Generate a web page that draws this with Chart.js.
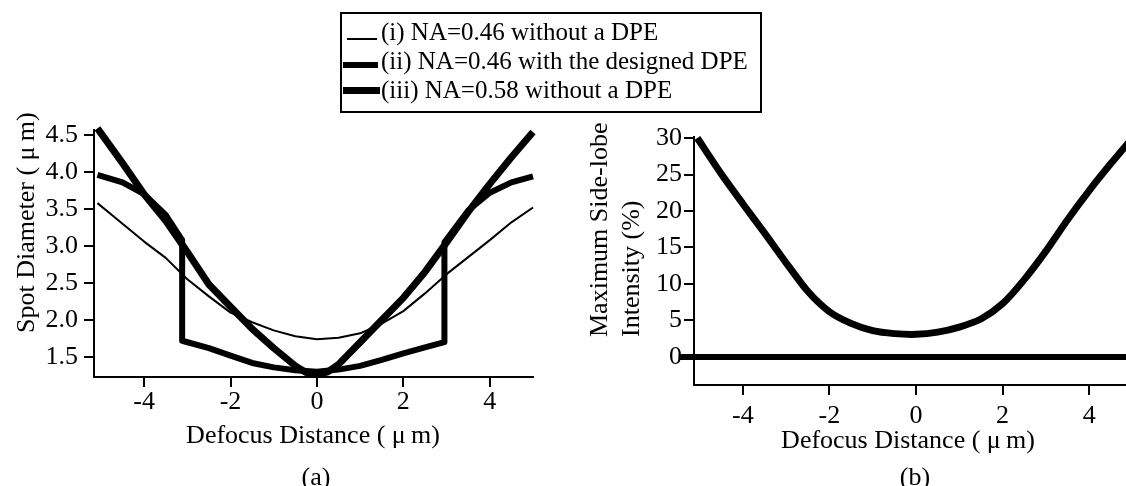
<!DOCTYPE html>
<html><head><meta charset="utf-8">
<script src="https://cdn.jsdelivr.net/npm/chart.js@4/dist/chart.umd.min.js"></script>
<style>
html,body{margin:0;padding:0;background:#fff;overflow:hidden;width:1126px;height:486px;position:relative;}
.t{position:absolute;font-family:'Liberation Serif','Times New Roman',serif;font-size:26px;line-height:30px;white-space:nowrap;color:#000;}
.lg{font-size:25px;}
.rot{transform:rotate(-90deg);transform-origin:0 0;}
.c{transform:translateX(-50%);}
#ca{position:absolute;left:0;top:0;}
#cb{position:absolute;left:560px;top:0;}
#legend{position:absolute;left:340px;top:12px;width:422px;height:101px;border:2px solid #000;box-sizing:border-box;}
.s{position:absolute;background:#000;}
</style></head><body>
<canvas id="ca" width="560" height="486"></canvas>
<canvas id="cb" width="600" height="486"></canvas>

<div id="legend"></div>
<div class="s" style="left:347px;top:38px;width:30px;height:2px"></div>
<div class="s" style="left:343px;top:62px;width:35px;height:6px"></div>
<div class="s" style="left:343px;top:87px;width:37px;height:7px"></div>
<div class="t lg" style="left:381px;top:17px">(i) NA=0.46 without a DPE</div>
<div class="t lg" style="left:381px;top:46px">(ii) NA=0.46 with the designed DPE</div>
<div class="t lg" style="left:381px;top:75px">(iii) NA=0.58 without a DPE</div>

<div class="t rot" style="left:11px;top:333px">Spot Diameter ( μ&#8201;m)</div>
<div class="t c" style="left:313px;top:420px">Defocus Distance ( μ&#8201;m)</div>
<div class="t c" style="left:316px;top:462px">(a)</div>

<div class="t rot" style="left:584px;top:337px">Maximum Side-lobe</div>
<div class="t rot" style="left:616px;top:337px">Intensity (%)</div>
<div class="t c" style="left:908px;top:425px">Defocus Distance ( μ&#8201;m)</div>
<div class="t c" style="left:915px;top:462px">(b)</div>

<script>
// ---- data (panel a) ----
const xTicks  = [-4, -2, 0, 2, 4];
const yTicksA = [1.5, 2.0, 2.5, 3.0, 3.5, 4.0, 4.5];
const yTicksB = [0, 5, 10, 15, 20, 25, 30];

// (i) NA=0.46 without a DPE
const xThin = [-5.08,-4.5,-4,-3.5,-3,-2.5,-2,-1.5,-1,-0.5,0,0.5,1,1.5,2,2.5,3,3.5,4,4.5,5.0];
const yThin = [3.58,3.30,3.06,2.84,2.55,2.32,2.10,1.97,1.86,1.78,1.74,1.76,1.82,1.95,2.12,2.36,2.62,2.85,3.08,3.32,3.52];

// (ii) NA=0.46 with the designed DPE
const xDpe = [-5.08,-4.5,-4,-3.5,-3.12,-3.12,-2.5,-2,-1.5,-1,-0.5,0,0.5,1,1.5,2,2.5,2.95,2.95,3.5,4,4.5,5.0];
const yDpe = [3.96,3.86,3.70,3.42,3.08,1.72,1.62,1.52,1.42,1.36,1.32,1.30,1.33,1.38,1.46,1.55,1.63,1.70,3.05,3.48,3.72,3.86,3.94];

// (iii) NA=0.58 without a DPE
const xHi = [-5.08,-4.5,-4,-3.5,-3,-2.5,-2,-1.5,-1,-0.5,-0.25,0,0.25,0.5,1,1.5,2,2.5,3,3.5,4,4.5,5.0];
const yHi = [4.59,4.12,3.70,3.34,2.92,2.48,2.18,1.88,1.62,1.38,1.29,1.26,1.30,1.40,1.70,2.00,2.30,2.65,3.05,3.46,3.84,4.20,4.54];

// ---- data (panel b) ----
const xSide = [-5.05,-4.5,-4,-3.5,-3,-2.5,-2,-1.5,-1,-0.5,0,0.5,1,1.5,2,2.5,3,3.5,4,4.5,5];
const ySide = [30.0,25.1,21.0,17.0,12.9,9.0,6.2,4.6,3.6,3.2,3.1,3.4,4.1,5.2,7.3,10.6,14.5,18.8,22.8,26.5,30.0];
const xZero = [-5.48, 5.6];
const yZero = [0, 0];

const FONT = {family: "'Liberation Serif','Times New Roman',serif", size: 26};
const pts = (xs, ys) => xs.map((x, i) => ({x: x, y: ys[i]}));
const fixTicks = vals => s => { s.ticks = vals.map(v => ({value: v})); };
const grid = () => ({display: true, drawOnChartArea: false, drawTicks: true, tickLength: 10, color: '#000', lineWidth: 2});
const border = () => ({display: true, color: '#000', width: 2});
const ds = (data, w) => ({data: data, borderColor: '#000', backgroundColor: '#000', borderWidth: w,
  pointRadius: 0, tension: 0, clip: false, borderJoinStyle: 'round', fill: false});
const base = {animation: false, responsive: false, devicePixelRatio: 1, events: [],
  plugins: {legend: {display: false}, tooltip: {enabled: false}}};

new Chart(document.getElementById('ca'), {
  type: 'line',
  data: {datasets: [ds(pts(xDpe, yDpe), 6), ds(pts(xHi, yHi), 7), ds(pts(xThin, yThin), 2)]},
  options: Object.assign({}, base, {
    layout: {padding: {left: 0, right: 27, top: 130, bottom: 0}},
    scales: {
      x: {type: 'linear', min: -5.16, max: 5.0, afterBuildTicks: fixTicks(xTicks),
          afterFit: s => { s.height = 109; }, grid: grid(), border: border(),
          ticks: {padding: 0, color: '#000', font: FONT, maxRotation: 0, autoSkip: false, callback: v => String(v)}},
      y: {type: 'linear', min: 1.23, max: 4.568, afterBuildTicks: fixTicks(yTicksA),
          afterFit: s => { s.width = 94; }, grid: grid(), border: border(),
          ticks: {padding: 6, color: '#000', font: FONT, autoSkip: false, callback: v => v.toFixed(1)}}
    }
  })
});

new Chart(document.getElementById('cb'), {
  type: 'line',
  data: {datasets: [ds(pts(xZero, yZero), 6), Object.assign(ds(pts(xSide, ySide), 7), {tension: 0.25})]},
  options: Object.assign({}, base, {
    layout: {padding: {left: 0, right: 22, top: 137, bottom: 0}},
    scales: {
      x: {type: 'linear', min: -5.127, max: 5.127, afterBuildTicks: fixTicks(xTicks),
          afterFit: s => { s.height = 101; }, grid: grid(), border: border(),
          ticks: {padding: 6, color: '#000', font: FONT, maxRotation: 0, autoSkip: false, callback: v => String(v)}},
      y: {type: 'linear', min: -3.84, max: 30.14, afterBuildTicks: fixTicks(yTicksB),
          afterFit: s => { s.width = 134; }, grid: grid(), border: border(),
          ticks: {padding: 2, color: '#000', font: FONT, autoSkip: false, callback: v => String(v)}}
    }
  })
});
</script>
</body></html>
